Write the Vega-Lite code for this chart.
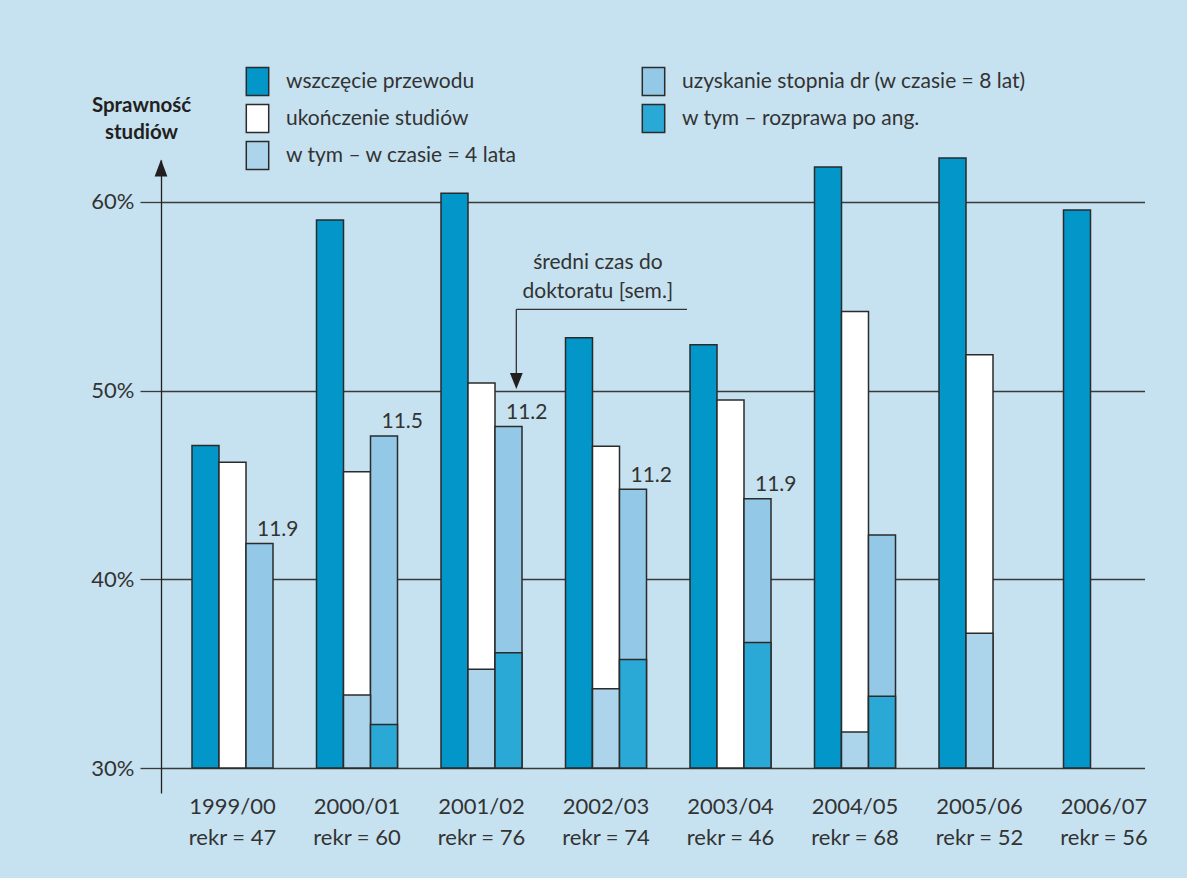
{
  "$schema": "https://vega.github.io/schema/vega-lite/v6.json",
  "autosize": {"type": "none"},
  "width": 983.5,
  "height": 633,
  "padding": {"left": 161, "top": 160, "right": 42.5, "bottom": 85},
  "background": "#c6e2f0",
  "config": {"view": {"stroke": null}, "font": "Lato"},
  "data": {
    "values": [
      {"rok": "1999/00|rekr = 47", "seria": "wszczęcie przewodu", "slot": "a", "v": 47.1},
      {"rok": "1999/00|rekr = 47", "seria": "ukończenie studiów", "slot": "b", "v": 46.2},
      {"rok": "1999/00|rekr = 47", "seria": "uzyskanie stopnia dr (w czasie = 8 lat)", "slot": "c", "v": 41.9, "czas": 11.9},
      {"rok": "2000/01|rekr = 60", "seria": "wszczęcie przewodu", "slot": "a", "v": 59.05},
      {"rok": "2000/01|rekr = 60", "seria": "ukończenie studiów", "slot": "b", "v": 45.7},
      {"rok": "2000/01|rekr = 60", "seria": "uzyskanie stopnia dr (w czasie = 8 lat)", "slot": "c", "v": 47.6, "czas": 11.5},
      {"rok": "2001/02|rekr = 76", "seria": "wszczęcie przewodu", "slot": "a", "v": 60.46},
      {"rok": "2001/02|rekr = 76", "seria": "ukończenie studiów", "slot": "b", "v": 50.4},
      {"rok": "2001/02|rekr = 76", "seria": "uzyskanie stopnia dr (w czasie = 8 lat)", "slot": "c", "v": 48.1, "czas": 11.2},
      {"rok": "2002/03|rekr = 74", "seria": "wszczęcie przewodu", "slot": "a", "v": 52.8},
      {"rok": "2002/03|rekr = 74", "seria": "ukończenie studiów", "slot": "b", "v": 47.06},
      {"rok": "2002/03|rekr = 74", "seria": "uzyskanie stopnia dr (w czasie = 8 lat)", "slot": "c", "v": 44.77, "czas": 11.2},
      {"rok": "2003/04|rekr = 46", "seria": "wszczęcie przewodu", "slot": "a", "v": 52.43},
      {"rok": "2003/04|rekr = 46", "seria": "ukończenie studiów", "slot": "b", "v": 49.5},
      {"rok": "2003/04|rekr = 46", "seria": "uzyskanie stopnia dr (w czasie = 8 lat)", "slot": "c", "v": 44.27, "czas": 11.9},
      {"rok": "2004/05|rekr = 68", "seria": "wszczęcie przewodu", "slot": "a", "v": 61.85},
      {"rok": "2004/05|rekr = 68", "seria": "ukończenie studiów", "slot": "b", "v": 54.2},
      {"rok": "2004/05|rekr = 68", "seria": "uzyskanie stopnia dr (w czasie = 8 lat)", "slot": "c", "v": 42.35},
      {"rok": "2005/06|rekr = 52", "seria": "wszczęcie przewodu", "slot": "a", "v": 62.33},
      {"rok": "2005/06|rekr = 52", "seria": "ukończenie studiów", "slot": "b", "v": 51.9},
      {"rok": "2006/07|rekr = 56", "seria": "wszczęcie przewodu", "slot": "a", "v": 59.57},
      {"rok": "2000/01|rekr = 60", "seria": "w tym – w czasie = 4 lata", "slot": "b", "v": 33.87},
      {"rok": "2000/01|rekr = 60", "seria": "w tym – rozprawa po ang.", "slot": "c", "v": 32.3},
      {"rok": "2001/02|rekr = 76", "seria": "w tym – w czasie = 4 lata", "slot": "b", "v": 35.23},
      {"rok": "2001/02|rekr = 76", "seria": "w tym – rozprawa po ang.", "slot": "c", "v": 36.11},
      {"rok": "2002/03|rekr = 74", "seria": "w tym – w czasie = 4 lata", "slot": "b", "v": 34.2},
      {"rok": "2002/03|rekr = 74", "seria": "w tym – rozprawa po ang.", "slot": "c", "v": 35.75},
      {"rok": "2003/04|rekr = 46", "seria": "w tym – rozprawa po ang.", "slot": "c", "v": 36.65},
      {"rok": "2004/05|rekr = 68", "seria": "w tym – w czasie = 4 lata", "slot": "b", "v": 31.91},
      {"rok": "2004/05|rekr = 68", "seria": "w tym – rozprawa po ang.", "slot": "c", "v": 33.8},
      {"rok": "2005/06|rekr = 52", "seria": "w tym – w czasie = 4 lata", "slot": "b", "v": 37.14}
    ]
  },
  "layer": [
    {
      "mark": {"type": "bar", "stroke": "#2b2b2b", "strokeWidth": 1.5, "opacity": 1},
      "encoding": {
        "x": {
          "field": "rok", "type": "nominal", "sort": null,
          "scale": {"paddingInner": 0.3494, "paddingOuter": 0.1245, "align": 1},
          "axis": {
            "title": null, "domain": false, "ticks": false, "labelAngle": 0,
            "labelExpr": "split(datum.label, '|')",
            "labelFontSize": 22, "labelColor": "#333333", "labelPadding": 3,
            "labelLineHeight": 31, "labelBaseline": "top"
          }
        },
        "xOffset": {
          "field": "slot", "type": "nominal",
          "scale": {"domain": ["a", "b", "c"], "paddingInner": 0, "paddingOuter": 0}
        },
        "y": {
          "field": "v", "type": "quantitative",
          "scale": {"domain": [28.675, 62.226], "nice": false, "zero": false},
          "axis": {
            "values": [30, 40, 50, 60],
            "labelExpr": "datum.value + '%'",
            "grid": true, "gridColor": "#3a3a3a", "gridWidth": 1.3,
            "tickSize": 21, "tickColor": "#3a3a3a", "tickWidth": 1.3,
            "domainColor": "#231f20", "domainWidth": 1.3,
            "labelFontSize": 22, "labelColor": "#333333", "labelPadding": 6,
            "title": ["Sprawność", "studiów"],
            "titleAngle": 0, "titleAlign": "center", "titleBaseline": "alphabetic",
            "titleX": -20, "titleY": -49, "titleFontSize": 20.5, "titleFontWeight": "bold",
            "titleColor": "#231f20", "titleLineHeight": 27
          }
        },
        "y2": {"datum": 30},
        "color": {
          "field": "seria", "type": "nominal",
          "scale": {
            "domain": ["wszczęcie przewodu", "ukończenie studiów", "w tym – w czasie = 4 lata", "uzyskanie stopnia dr (w czasie = 8 lat)", "w tym – rozprawa po ang."],
            "range": ["#0396c9", "#ffffff", "#acd4ea", "#93c9e6", "#2aa8d6"]
          },
          "legend": {
            "orient": "none", "legendX": 81.5, "legendY": -93.5, "columns": 2,
            "title": null, "padding": 0,
            "symbolType": "M-0.8,-1H0.8V1H-0.8Z", "symbolSize": 784,
            "symbolStrokeColor": "#2b2b2b", "symbolStrokeWidth": 1.5, "symbolOpacity": 1,
            "labelFontSize": 21, "labelColor": "#333333", "labelOffset": 13.5,
            "rowPadding": 3, "columnPadding": 121, "labelLimit": 600
          }
        }
      }
    },
    {
      "transform": [{"filter": "datum.czas != null"}],
      "mark": {"type": "text", "align": "left", "baseline": "alphabetic", "dx": -2.5, "dy": -7.6, "fontSize": 21, "color": "#333333"},
      "encoding": {
        "x": {"field": "rok", "type": "nominal", "sort": null},
        "xOffset": {"field": "slot", "type": "nominal"},
        "y": {"field": "v", "type": "quantitative"},
        "text": {"field": "czas", "type": "quantitative", "format": ".1f"}
      }
    },
    {
      "data": {"values": [{"k": 1}]},
      "mark": {"type": "text", "align": "center", "baseline": "alphabetic", "fontSize": 21, "lineHeight": 29, "color": "#333333", "text": ["średni czas do", "doktoratu [sem.]"]},
      "encoding": {
        "x": {"datum": "2002/03|rekr = 74", "bandPosition": 0.4},
        "y": {"datum": 56.433}
      }
    },
    {
      "data": {"values": [{"k": 1}]},
      "mark": {"type": "rule", "color": "#333333", "strokeWidth": 1.3},
      "encoding": {
        "x": {"datum": "2001/02|rekr = 76", "bandPosition": 0.93},
        "x2": {"datum": "2002/03|rekr = 74", "bandPosition": 1.5},
        "y": {"datum": 54.313}
      }
    },
    {
      "data": {"values": [{"k": 1}]},
      "mark": {"type": "rule", "color": "#333333", "strokeWidth": 1.3},
      "encoding": {
        "x": {"datum": "2001/02|rekr = 76", "bandPosition": 0.93},
        "y": {"datum": 54.313},
        "y2": {"datum": 50.936}
      }
    },
    {
      "data": {"values": [{"k": 1}]},
      "mark": {"type": "point", "shape": "M-0.8,-1L0,1L0.8,-1Z", "size": 256, "filled": true, "color": "#231f20", "opacity": 1},
      "encoding": {
        "x": {"datum": "2001/02|rekr = 76", "bandPosition": 0.93},
        "y": {"datum": 50.512}
      }
    },
    {
      "data": {"values": [{"k": 1}]},
      "mark": {"type": "point", "shape": "M-0.75,1L0,-1L0.75,1Z", "size": 289, "filled": true, "color": "#231f20", "opacity": 1},
      "encoding": {
        "x": {"datum": "1999/00|rekr = 47", "bandPosition": -0.3827},
        "y": {"datum": 61.802}
      }
    }
  ]
}
